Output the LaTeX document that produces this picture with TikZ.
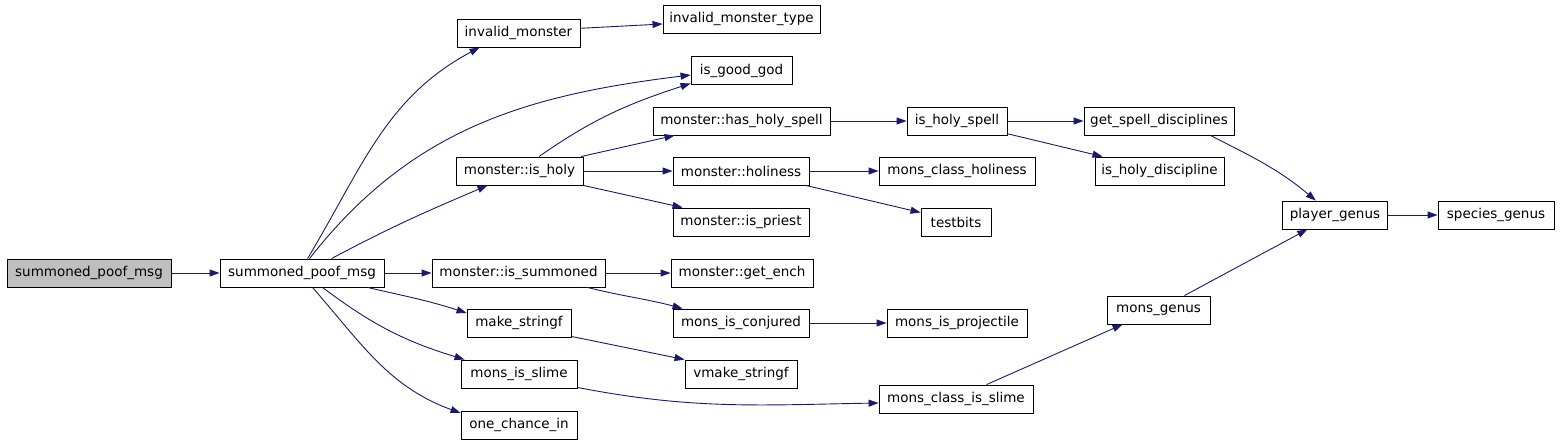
\documentclass[tikz,border=0pt]{standalone}
\usepackage{fontspec}
\setmainfont{DejaVu Sans}
\usetikzlibrary{arrows.meta}
\definecolor{edgeblue}{HTML}{191970}
\definecolor{greyfill}{HTML}{BFBFBF}
\tikzset{
  fn/.style={draw=black, line width=0.9pt, minimum height=28pt, inner sep=0pt, font=\fontsize{13.5}{16}\selectfont, fill=white},
  root/.style={fn, fill=greyfill},
  call/.style={draw=edgeblue, line width=0.9pt, -{Triangle[length=10pt,width=7pt]}},
}
\begin{document}
\begin{tikzpicture}[x=1pt,y=-1pt]
\useasboundingbox (0,0) rectangle (1560,443);
% nodes
\node[root, minimum width=164pt] (grey) at (89,273) {summoned\_poof\_msg};
\node[fn, minimum width=164pt] (spm) at (302,273) {summoned\_poof\_msg};
\node[fn, minimum width=123pt] (invm) at (518.5,33) {invalid\_monster};
\node[fn, minimum width=157pt] (invmt) at (741.5,19) {invalid\_monster\_type};
\node[fn, minimum width=101pt] (igg) at (741.5,70.5) {is\_good\_god};
\node[fn, minimum width=177pt] (hhs) at (741.5,121) {monster::has\_holy\_spell};
\node[fn, minimum width=100pt] (ihs) at (957,121) {is\_holy\_spell};
\node[fn, minimum width=150pt] (gsd) at (1159,121) {get\_spell\_disciplines};
\node[fn, minimum width=127pt] (ish) at (519.5,171) {monster::is\_holy};
\node[fn, minimum width=136pt] (hol) at (741,171) {monster::holiness};
\node[fn, minimum width=156pt] (mch) at (957,171) {mons\_class\_holiness};
\node[fn, minimum width=129pt] (ihd) at (1159.5,171) {is\_holy\_discipline};
\node[fn, minimum width=136pt] (pri) at (741,222) {monster::is\_priest};
\node[fn, minimum width=70pt] (tb) at (956,222) {testbits};
\node[fn, minimum width=105.5pt] (pg) at (1335,215) {player\_genus};
\node[fn, minimum width=116pt] (sg) at (1496,215) {species\_genus};
\node[fn, minimum width=173pt] (isum) at (518.5,273) {monster::is\_summoned};
\node[fn, minimum width=142pt] (ge) at (742,273) {monster::get\_ench};
\node[fn, minimum width=103pt] (mg) at (1158.5,310) {mons\_genus};
\node[fn, minimum width=104pt] (mks) at (519,323) {make\_stringf};
\node[fn, minimum width=136pt] (mic) at (741,323) {mons\_is\_conjured};
\node[fn, minimum width=140pt] (mip) at (957,323) {mons\_is\_projectile};
\node[fn, minimum width=116pt] (mis) at (519,374) {mons\_is\_slime};
\node[fn, minimum width=112pt] (vmks) at (741,374) {vmake\_stringf};
\node[fn, minimum width=154pt] (mcis) at (956,399) {mons\_class\_is\_slime};
\node[fn, minimum width=116pt] (oci) at (519,425) {one\_chance\_in};
% edges
\draw[call] (grey.east) -- (spm.west);
\draw[call] ([xshift=88pt]spm.north west) to[out=59,in=208] ([xshift=23pt]invm.south west);
\draw[call] ([xshift=90pt]spm.north west) to[out=52,in=187] ([yshift=-4.5pt]igg.west);
\draw[call] ([xshift=112pt]spm.north west) to[out=28,in=203] ([xshift=32pt]ish.south west);
\draw[call] (spm.east) -- (isum.west);
\draw[call] ([xshift=148pt]spm.south west) to[out=-13,in=162] ([yshift=10pt]mks.west);
\draw[call] ([xshift=103pt]spm.south west) to[out=-37,in=163] ([xshift=4pt]mis.north west);
\draw[call] ([xshift=93pt]spm.south west) to[out=-49,in=160] ([yshift=12pt]oci.west);
\draw[call] ([yshift=4.7pt]invm.east) -- ([yshift=-5pt]invmt.west);
\draw[call] ([xshift=83.5pt]ish.north west) to[out=35,in=198] ([yshift=1.5pt]igg.south west);
\draw[call] ([xshift=125.6pt]ish.north west) -- ([xshift=22pt]hhs.south west);
\draw[call] (ish.east) -- (hol.west);
\draw[call] (ish.south east) -- ([xshift=10pt]pri.north west);
\draw[call] (hhs.east) -- (ihs.west);
\draw[call] (hol.east) -- (mch.west);
\draw[call] ([xshift=-3.5pt]hol.south east) -- ([yshift=-5pt]tb.north west);
\draw[call] (ihs.east) -- (gsd.west);
\draw[call] ([yshift=1.7pt]ihs.south east) -- ([xshift=8pt]ihd.north west);
\draw[call] ([xshift=-24pt]gsd.south east) to[out=-27,in=140] ([xshift=34pt]pg.north west);
\draw[call] (pg.east) -- (sg.west);
\draw[call] (isum.east) -- (ge.west);
\draw[call] ([xshift=-18pt]isum.south east) to[out=-14,in=165] ([xshift=10pt]mic.north west);
\draw[call] (mic.east) -- (mip.west);
\draw[call] ([yshift=1pt]mks.south east) -- (vmks.north west);
\draw[call] ([yshift=1pt]mis.south east) to[out=-11,in=181] ([yshift=-4pt]mcis.west);
\draw[call] ([xshift=108pt]mcis.north west) -- ([xshift=16pt]mg.south west);
\draw[call] ([xshift=-26pt]mg.north east) -- ([xshift=25.5pt]pg.south west);
\end{tikzpicture}
\end{document}
